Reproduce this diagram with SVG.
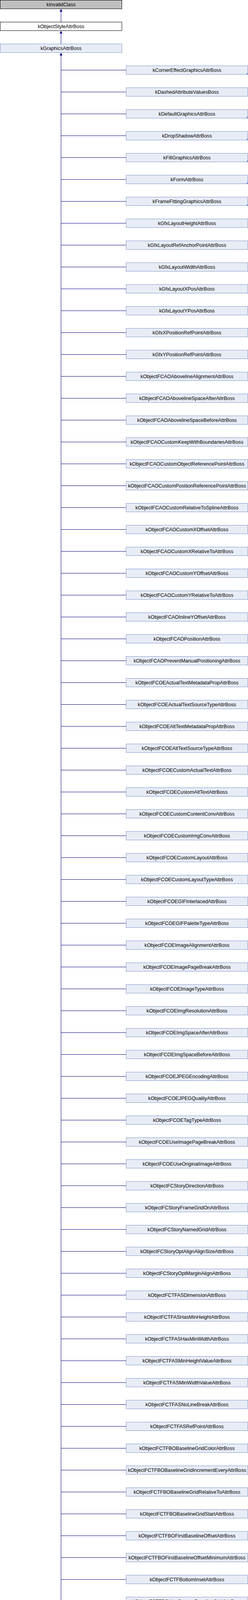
<svg xmlns="http://www.w3.org/2000/svg" width="636" height="7360" viewBox="0 0 636 7360">
<style>
text{font-family:"Liberation Sans",Arial,sans-serif;font-size:12.7px;text-anchor:middle;fill:#000}
.n rect{fill:#E8ECF5;stroke:#7C95CC;stroke-width:1}
.root rect{fill:#BFBFBF;stroke:#000;stroke-width:1}
.mid rect{fill:#FFFFFF;stroke:#000;stroke-width:1}
.t{fill:#7C95CC}
.cn{stroke:#000080;stroke-width:1;fill:none}
.ah{fill:#000080}
</style>
<rect x="0" y="0" width="636" height="7360" fill="#FFFFFF"/>
<g id="connectors">
<path class="cn" d="M156.5 23V56M156.5 79V112M156.5 135V7347.5"/>
<path class="cn" d="M156.5 179.5h166.5m-166.5 56h166.5m-166.5 56h166.5m-166.5 56h166.5m-166.5 56h166.5m-166.5 56h166.5m-166.5 56h166.5m-166.5 56h166.5m-166.5 56h166.5m-166.5 56h166.5m-166.5 56h166.5m-166.5 56h166.5m-166.5 56h166.5m-166.5 56h166.5m-166.5 56h166.5m-166.5 56h166.5m-166.5 56h166.5m-166.5 56h166.5m-166.5 56h166.5m-166.5 56h166.5m-166.5 56h166.5m-166.5 56h166.5m-166.5 56h166.5m-166.5 56h166.5m-166.5 56h166.5m-166.5 56h166.5m-166.5 56h166.5m-166.5 56h166.5m-166.5 56h166.5m-166.5 56h166.5m-166.5 56h166.5m-166.5 56h166.5m-166.5 56h166.5m-166.5 56h166.5m-166.5 56h166.5m-166.5 56h166.5m-166.5 56h166.5m-166.5 56h166.5m-166.5 56h166.5m-166.5 56h166.5m-166.5 56h166.5m-166.5 56h166.5m-166.5 56h166.5m-166.5 56h166.5m-166.5 56h166.5m-166.5 56h166.5m-166.5 56h166.5m-166.5 56h166.5m-166.5 56h166.5m-166.5 56h166.5m-166.5 56h166.5m-166.5 56h166.5m-166.5 56h166.5m-166.5 56h166.5m-166.5 56h166.5m-166.5 56h166.5m-166.5 56h166.5m-166.5 56h166.5m-166.5 56h166.5m-166.5 56h166.5m-166.5 56h166.5m-166.5 56h166.5m-166.5 56h166.5m-166.5 56h166.5m-166.5 56h166.5m-166.5 56h166.5m-166.5 56h166.5m-166.5 56h166.5m-166.5 56h166.5m-166.5 56h166.5m-166.5 56h166.5m-166.5 56h166.5m-166.5 56h166.5m-166.5 56h166.5m-166.5 56h166.5m-166.5 56h166.5m-166.5 56h166.5m-166.5 56h166.5m-166.5 56h166.5m-166.5 56h166.5m-166.5 56h166.5m-166.5 56h166.5m-166.5 56h166.5m-166.5 56h166.5m-166.5 56h166.5m-166.5 56h166.5m-166.5 56h166.5m-166.5 56h166.5m-166.5 56h166.5m-166.5 56h166.5m-166.5 56h166.5m-166.5 56h166.5m-166.5 56h166.5m-166.5 56h166.5m-166.5 56h166.5m-166.5 56h166.5m-166.5 56h166.5m-166.5 56h166.5m-166.5 56h166.5m-166.5 56h166.5m-166.5 56h166.5m-166.5 56h166.5m-166.5 56h166.5m-166.5 56h166.5m-166.5 56h166.5m-166.5 56h166.5m-166.5 56h166.5m-166.5 56h166.5m-166.5 56h166.5m-166.5 56h166.5m-166.5 56h166.5m-166.5 56h166.5m-166.5 56h166.5m-166.5 56h166.5m-166.5 56h166.5m-166.5 56h166.5m-166.5 56h166.5m-166.5 56h166.5m-166.5 56h166.5m-166.5 56h166.5m-166.5 56h166.5m-166.5 56h166.5m-166.5 56h166.5m-166.5 56h166.5m-166.5 56h166.5m-166.5 56h166.5m-166.5 56h166.5m-166.5 56h166.5m-166.5 56h166.5m-166.5 56h166.5m-166.5 56h166.5m-166.5 56h166.5m-166.5 56h166.5m-166.5 56h166.5"/>
<path class="ah" d="M156.5 23L153 30H160ZM156.5 79L153 86H160ZM156.5 135L153 142H160Z"/>
</g>
<g id="kInvalidClass" class="root"><rect x="0.5" y="0.5" width="312" height="22"/><text x="156.5" y="16">kInvalidClass</text></g>
<g id="kObjectStyleAttrBoss" class="mid" transform="translate(0 56)"><rect x="0.5" y="0.5" width="312" height="22"/><text x="156.5" y="16">kObjectStyleAttrBoss</text></g>
<g id="kGraphicsAttrBoss" class="n" transform="translate(0 112)"><rect x="0.5" y="0.5" width="312" height="22"/><text x="156.5" y="16">kGraphicsAttrBoss</text></g>
<g id="kCornerEffectGraphicsAttrBoss" class="n" transform="translate(323 168)"><rect x="0.5" y="0.5" width="312" height="22"/><path class="t" d="M313 17v6h-6z"/><text x="156.5" y="16">kCornerEffectGraphicsAttrBoss</text></g>
<g id="kDashedAttributeValuesBoss" class="n" transform="translate(323 224)"><rect x="0.5" y="0.5" width="312" height="22"/><text x="156.5" y="16">kDashedAttributeValuesBoss</text></g>
<g id="kDefaultGraphicsAttrBoss" class="n" transform="translate(323 280)"><rect x="0.5" y="0.5" width="312" height="22"/><path class="t" d="M313 17v6h-6z"/><text x="156.5" y="16">kDefaultGraphicsAttrBoss</text></g>
<g id="kDropShadowAttrBoss" class="n" transform="translate(323 336)"><rect x="0.5" y="0.5" width="312" height="22"/><path class="t" d="M313 17v6h-6z"/><text x="156.5" y="16">kDropShadowAttrBoss</text></g>
<g id="kFillGraphicsAttrBoss" class="n" transform="translate(323 392)"><rect x="0.5" y="0.5" width="312" height="22"/><path class="t" d="M313 17v6h-6z"/><text x="156.5" y="16">kFillGraphicsAttrBoss</text></g>
<g id="kFormAttrBoss" class="n" transform="translate(323 448)"><rect x="0.5" y="0.5" width="312" height="22"/><path class="t" d="M313 17v6h-6z"/><text x="156.5" y="16">kFormAttrBoss</text></g>
<g id="kFrameFittingGraphicsAttrBoss" class="n" transform="translate(323 504)"><rect x="0.5" y="0.5" width="312" height="22"/><path class="t" d="M313 17v6h-6z"/><text x="156.5" y="16">kFrameFittingGraphicsAttrBoss</text></g>
<g id="kGfxLayoutHeightAttrBoss" class="n" transform="translate(323 560)"><rect x="0.5" y="0.5" width="312" height="22"/><text x="156.5" y="16">kGfxLayoutHeightAttrBoss</text></g>
<g id="kGfxLayoutRefAnchorPointAttrBoss" class="n" transform="translate(323 616)"><rect x="0.5" y="0.5" width="312" height="22"/><text x="156.5" y="16">kGfxLayoutRefAnchorPointAttrBoss</text></g>
<g id="kGfxLayoutWidthAttrBoss" class="n" transform="translate(323 672)"><rect x="0.5" y="0.5" width="312" height="22"/><text x="156.5" y="16">kGfxLayoutWidthAttrBoss</text></g>
<g id="kGfxLayoutXPosAttrBoss" class="n" transform="translate(323 728)"><rect x="0.5" y="0.5" width="312" height="22"/><text x="156.5" y="16">kGfxLayoutXPosAttrBoss</text></g>
<g id="kGfxLayoutYPosAttrBoss" class="n" transform="translate(323 784)"><rect x="0.5" y="0.5" width="312" height="22"/><text x="156.5" y="16">kGfxLayoutYPosAttrBoss</text></g>
<g id="kGfxXPositionRefPointAttrBoss" class="n" transform="translate(323 840)"><rect x="0.5" y="0.5" width="312" height="22"/><text x="156.5" y="16">kGfxXPositionRefPointAttrBoss</text></g>
<g id="kGfxYPositionRefPointAttrBoss" class="n" transform="translate(323 896)"><rect x="0.5" y="0.5" width="312" height="22"/><text x="156.5" y="16">kGfxYPositionRefPointAttrBoss</text></g>
<g id="kObjectFCAOAbovelineAlignmentAttrBoss" class="n" transform="translate(323 952)"><rect x="0.5" y="0.5" width="312" height="22"/><text x="156.5" y="16">kObjectFCAOAbovelineAlignmentAttrBoss</text></g>
<g id="kObjectFCAOAbovelineSpaceAfterAttrBoss" class="n" transform="translate(323 1008)"><rect x="0.5" y="0.5" width="312" height="22"/><text x="156.5" y="16">kObjectFCAOAbovelineSpaceAfterAttrBoss</text></g>
<g id="kObjectFCAOAbovelineSpaceBeforeAttrBoss" class="n" transform="translate(323 1064)"><rect x="0.5" y="0.5" width="312" height="22"/><text x="156.5" y="16">kObjectFCAOAbovelineSpaceBeforeAttrBoss</text></g>
<g id="kObjectFCAOCustomKeepWithBoundariesAttrBoss" class="n" transform="translate(323 1120)"><rect x="0.5" y="0.5" width="312" height="22"/><text x="156.5" y="16">kObjectFCAOCustomKeepWithBoundariesAttrBoss</text></g>
<g id="kObjectFCAOCustomObjectReferencePointAttrBoss" class="n" transform="translate(323 1176)"><rect x="0.5" y="0.5" width="312" height="22"/><text x="156.5" y="16">kObjectFCAOCustomObjectReferencePointAttrBoss</text></g>
<g id="kObjectFCAOCustomPositionReferencePointAttrBoss" class="n" transform="translate(323 1232)"><rect x="0.5" y="0.5" width="312" height="22"/><text x="156.5" y="16">kObjectFCAOCustomPositionReferencePointAttrBoss</text></g>
<g id="kObjectFCAOCustomRelativeToSplineAttrBoss" class="n" transform="translate(323 1288)"><rect x="0.5" y="0.5" width="312" height="22"/><text x="156.5" y="16">kObjectFCAOCustomRelativeToSplineAttrBoss</text></g>
<g id="kObjectFCAOCustomXOffsetAttrBoss" class="n" transform="translate(323 1344)"><rect x="0.5" y="0.5" width="312" height="22"/><text x="156.5" y="16">kObjectFCAOCustomXOffsetAttrBoss</text></g>
<g id="kObjectFCAOCustomXRelativeToAttrBoss" class="n" transform="translate(323 1400)"><rect x="0.5" y="0.5" width="312" height="22"/><text x="156.5" y="16">kObjectFCAOCustomXRelativeToAttrBoss</text></g>
<g id="kObjectFCAOCustomYOffsetAttrBoss" class="n" transform="translate(323 1456)"><rect x="0.5" y="0.5" width="312" height="22"/><text x="156.5" y="16">kObjectFCAOCustomYOffsetAttrBoss</text></g>
<g id="kObjectFCAOCustomYRelativeToAttrBoss" class="n" transform="translate(323 1512)"><rect x="0.5" y="0.5" width="312" height="22"/><text x="156.5" y="16">kObjectFCAOCustomYRelativeToAttrBoss</text></g>
<g id="kObjectFCAOInlineYOffsetAttrBoss" class="n" transform="translate(323 1568)"><rect x="0.5" y="0.5" width="312" height="22"/><text x="156.5" y="16">kObjectFCAOInlineYOffsetAttrBoss</text></g>
<g id="kObjectFCAOPositionAttrBoss" class="n" transform="translate(323 1624)"><rect x="0.5" y="0.5" width="312" height="22"/><text x="156.5" y="16">kObjectFCAOPositionAttrBoss</text></g>
<g id="kObjectFCAOPreventManualPositioningAttrBoss" class="n" transform="translate(323 1680)"><rect x="0.5" y="0.5" width="312" height="22"/><text x="156.5" y="16">kObjectFCAOPreventManualPositioningAttrBoss</text></g>
<g id="kObjectFCOEActualTextMetadataPropAttrBoss" class="n" transform="translate(323 1736)"><rect x="0.5" y="0.5" width="312" height="22"/><text x="156.5" y="16">kObjectFCOEActualTextMetadataPropAttrBoss</text></g>
<g id="kObjectFCOEActualTextSourceTypeAttrBoss" class="n" transform="translate(323 1792)"><rect x="0.5" y="0.5" width="312" height="22"/><text x="156.5" y="16">kObjectFCOEActualTextSourceTypeAttrBoss</text></g>
<g id="kObjectFCOEAltTextMetadataPropAttrBoss" class="n" transform="translate(323 1848)"><rect x="0.5" y="0.5" width="312" height="22"/><text x="156.5" y="16">kObjectFCOEAltTextMetadataPropAttrBoss</text></g>
<g id="kObjectFCOEAltTextSourceTypeAttrBoss" class="n" transform="translate(323 1904)"><rect x="0.5" y="0.5" width="312" height="22"/><text x="156.5" y="16">kObjectFCOEAltTextSourceTypeAttrBoss</text></g>
<g id="kObjectFCOECustomActualTextAttrBoss" class="n" transform="translate(323 1960)"><rect x="0.5" y="0.5" width="312" height="22"/><text x="156.5" y="16">kObjectFCOECustomActualTextAttrBoss</text></g>
<g id="kObjectFCOECustomAltTextAttrBoss" class="n" transform="translate(323 2016)"><rect x="0.5" y="0.5" width="312" height="22"/><text x="156.5" y="16">kObjectFCOECustomAltTextAttrBoss</text></g>
<g id="kObjectFCOECustomContentConvAttrBoss" class="n" transform="translate(323 2072)"><rect x="0.5" y="0.5" width="312" height="22"/><text x="156.5" y="16">kObjectFCOECustomContentConvAttrBoss</text></g>
<g id="kObjectFCOECustomImgConvAttrBoss" class="n" transform="translate(323 2128)"><rect x="0.5" y="0.5" width="312" height="22"/><text x="156.5" y="16">kObjectFCOECustomImgConvAttrBoss</text></g>
<g id="kObjectFCOECustomLayoutAttrBoss" class="n" transform="translate(323 2184)"><rect x="0.5" y="0.5" width="312" height="22"/><text x="156.5" y="16">kObjectFCOECustomLayoutAttrBoss</text></g>
<g id="kObjectFCOECustomLayoutTypeAttrBoss" class="n" transform="translate(323 2240)"><rect x="0.5" y="0.5" width="312" height="22"/><text x="156.5" y="16">kObjectFCOECustomLayoutTypeAttrBoss</text></g>
<g id="kObjectFCOEGIFInterlacedAttrBoss" class="n" transform="translate(323 2296)"><rect x="0.5" y="0.5" width="312" height="22"/><text x="156.5" y="16">kObjectFCOEGIFInterlacedAttrBoss</text></g>
<g id="kObjectFCOEGIFPaletteTypeAttrBoss" class="n" transform="translate(323 2352)"><rect x="0.5" y="0.5" width="312" height="22"/><text x="156.5" y="16">kObjectFCOEGIFPaletteTypeAttrBoss</text></g>
<g id="kObjectFCOEImageAlignmentAttrBoss" class="n" transform="translate(323 2408)"><rect x="0.5" y="0.5" width="312" height="22"/><text x="156.5" y="16">kObjectFCOEImageAlignmentAttrBoss</text></g>
<g id="kObjectFCOEImagePageBreakAttrBoss" class="n" transform="translate(323 2464)"><rect x="0.5" y="0.5" width="312" height="22"/><text x="156.5" y="16">kObjectFCOEImagePageBreakAttrBoss</text></g>
<g id="kObjectFCOEImageTypeAttrBoss" class="n" transform="translate(323 2520)"><rect x="0.5" y="0.5" width="312" height="22"/><text x="156.5" y="16">kObjectFCOEImageTypeAttrBoss</text></g>
<g id="kObjectFCOEImgResolutionAttrBoss" class="n" transform="translate(323 2576)"><rect x="0.5" y="0.5" width="312" height="22"/><text x="156.5" y="16">kObjectFCOEImgResolutionAttrBoss</text></g>
<g id="kObjectFCOEImgSpaceAfterAttrBoss" class="n" transform="translate(323 2632)"><rect x="0.5" y="0.5" width="312" height="22"/><text x="156.5" y="16">kObjectFCOEImgSpaceAfterAttrBoss</text></g>
<g id="kObjectFCOEImgSpaceBeforeAttrBoss" class="n" transform="translate(323 2688)"><rect x="0.5" y="0.5" width="312" height="22"/><text x="156.5" y="16">kObjectFCOEImgSpaceBeforeAttrBoss</text></g>
<g id="kObjectFCOEJPEGEncodingAttrBoss" class="n" transform="translate(323 2744)"><rect x="0.5" y="0.5" width="312" height="22"/><text x="156.5" y="16">kObjectFCOEJPEGEncodingAttrBoss</text></g>
<g id="kObjectFCOEJPEGQualityAttrBoss" class="n" transform="translate(323 2800)"><rect x="0.5" y="0.5" width="312" height="22"/><text x="156.5" y="16">kObjectFCOEJPEGQualityAttrBoss</text></g>
<g id="kObjectFCOETagTypeAttrBoss" class="n" transform="translate(323 2856)"><rect x="0.5" y="0.5" width="312" height="22"/><text x="156.5" y="16">kObjectFCOETagTypeAttrBoss</text></g>
<g id="kObjectFCOEUseImagePageBreakAttrBoss" class="n" transform="translate(323 2912)"><rect x="0.5" y="0.5" width="312" height="22"/><text x="156.5" y="16">kObjectFCOEUseImagePageBreakAttrBoss</text></g>
<g id="kObjectFCOEUseOriginalImageAttrBoss" class="n" transform="translate(323 2968)"><rect x="0.5" y="0.5" width="312" height="22"/><text x="156.5" y="16">kObjectFCOEUseOriginalImageAttrBoss</text></g>
<g id="kObjectFCStoryDirectionAttrBoss" class="n" transform="translate(323 3024)"><rect x="0.5" y="0.5" width="312" height="22"/><text x="156.5" y="16">kObjectFCStoryDirectionAttrBoss</text></g>
<g id="kObjectFCStoryFrameGridOnAttrBoss" class="n" transform="translate(323 3080)"><rect x="0.5" y="0.5" width="312" height="22"/><text x="156.5" y="16">kObjectFCStoryFrameGridOnAttrBoss</text></g>
<g id="kObjectFCStoryNamedGridAttrBoss" class="n" transform="translate(323 3136)"><rect x="0.5" y="0.5" width="312" height="22"/><text x="156.5" y="16">kObjectFCStoryNamedGridAttrBoss</text></g>
<g id="kObjectFCStoryOptAlignAlignSizeAttrBoss" class="n" transform="translate(323 3192)"><rect x="0.5" y="0.5" width="312" height="22"/><text x="156.5" y="16">kObjectFCStoryOptAlignAlignSizeAttrBoss</text></g>
<g id="kObjectFCStoryOptMarginAlignAttrBoss" class="n" transform="translate(323 3248)"><rect x="0.5" y="0.5" width="312" height="22"/><text x="156.5" y="16">kObjectFCStoryOptMarginAlignAttrBoss</text></g>
<g id="kObjectFCTFASDimensionAttrBoss" class="n" transform="translate(323 3304)"><rect x="0.5" y="0.5" width="312" height="22"/><text x="156.5" y="16">kObjectFCTFASDimensionAttrBoss</text></g>
<g id="kObjectFCTFASHasMinHeightAttrBoss" class="n" transform="translate(323 3360)"><rect x="0.5" y="0.5" width="312" height="22"/><text x="156.5" y="16">kObjectFCTFASHasMinHeightAttrBoss</text></g>
<g id="kObjectFCTFASHasMinWidthAttrBoss" class="n" transform="translate(323 3416)"><rect x="0.5" y="0.5" width="312" height="22"/><text x="156.5" y="16">kObjectFCTFASHasMinWidthAttrBoss</text></g>
<g id="kObjectFCTFASMinHeightValueAttrBoss" class="n" transform="translate(323 3472)"><rect x="0.5" y="0.5" width="312" height="22"/><text x="156.5" y="16">kObjectFCTFASMinHeightValueAttrBoss</text></g>
<g id="kObjectFCTFASMinWidthValueAttrBoss" class="n" transform="translate(323 3528)"><rect x="0.5" y="0.5" width="312" height="22"/><text x="156.5" y="16">kObjectFCTFASMinWidthValueAttrBoss</text></g>
<g id="kObjectFCTFASNoLineBreakAttrBoss" class="n" transform="translate(323 3584)"><rect x="0.5" y="0.5" width="312" height="22"/><text x="156.5" y="16">kObjectFCTFASNoLineBreakAttrBoss</text></g>
<g id="kObjectFCTFASRefPointAttrBoss" class="n" transform="translate(323 3640)"><rect x="0.5" y="0.5" width="312" height="22"/><text x="156.5" y="16">kObjectFCTFASRefPointAttrBoss</text></g>
<g id="kObjectFCTFBOBaselineGridColorAttrBoss" class="n" transform="translate(323 3696)"><rect x="0.5" y="0.5" width="312" height="22"/><text x="156.5" y="16">kObjectFCTFBOBaselineGridColorAttrBoss</text></g>
<g id="kObjectFCTFBOBaselineGridIncrementEveryAttrBoss" class="n" transform="translate(323 3752)"><rect x="0.5" y="0.5" width="312" height="22"/><text x="156.5" y="16">kObjectFCTFBOBaselineGridIncrementEveryAttrBoss</text></g>
<g id="kObjectFCTFBOBaselineGridRelativeToAttrBoss" class="n" transform="translate(323 3808)"><rect x="0.5" y="0.5" width="312" height="22"/><text x="156.5" y="16">kObjectFCTFBOBaselineGridRelativeToAttrBoss</text></g>
<g id="kObjectFCTFBOBaselineGridStartAttrBoss" class="n" transform="translate(323 3864)"><rect x="0.5" y="0.5" width="312" height="22"/><text x="156.5" y="16">kObjectFCTFBOBaselineGridStartAttrBoss</text></g>
<g id="kObjectFCTFBOFirstBaselineOffsetAttrBoss" class="n" transform="translate(323 3920)"><rect x="0.5" y="0.5" width="312" height="22"/><text x="156.5" y="16">kObjectFCTFBOFirstBaselineOffsetAttrBoss</text></g>
<g id="kObjectFCTFBOFirstBaselineOffsetMinimumAttrBoss" class="n" transform="translate(323 3976)"><rect x="0.5" y="0.5" width="312" height="22"/><text x="156.5" y="16">kObjectFCTFBOFirstBaselineOffsetMinimumAttrBoss</text></g>
<g id="kObjectFCTFBottomInsetAttrBoss" class="n" transform="translate(323 4032)"><rect x="0.5" y="0.5" width="312" height="22"/><text x="156.5" y="16">kObjectFCTFBottomInsetAttrBoss</text></g>
<g id="kObjectFCTFBOUseCustomBaselineGridAttrBoss" class="n" transform="translate(323 4088)"><rect x="0.5" y="0.5" width="312" height="22"/><text x="156.5" y="16">kObjectFCTFBOUseCustomBaselineGridAttrBoss</text></g>
<g id="kObjectFCTFColumnWidthAttrBoss" class="n" transform="translate(323 4144)"><rect x="0.5" y="0.5" width="312" height="22"/><text x="156.5" y="16">kObjectFCTFColumnWidthAttrBoss</text></g>
<g id="kObjectFCTFFOEnableOverridesAttrBoss" class="n" transform="translate(323 4200)"><rect x="0.5" y="0.5" width="312" height="22"/><text x="156.5" y="16">kObjectFCTFFOEnableOverridesAttrBoss</text></g>
<g id="kObjectFCTFFOMinimumSpacingAttrBoss" class="n" transform="translate(323 4256)"><rect x="0.5" y="0.5" width="312" height="22"/><text x="156.5" y="16">kObjectFCTFFOMinimumSpacingAttrBoss</text></g>
<g id="kObjectFCTFFOSpaceBetweenFootnotesAttrBoss" class="n" transform="translate(323 4312)"><rect x="0.5" y="0.5" width="312" height="22"/><text x="156.5" y="16">kObjectFCTFFOSpaceBetweenFootnotesAttrBoss</text></g>
<g id="kObjectFCTFFOSpanFootnotesAcrossAttrBoss" class="n" transform="translate(323 4368)"><rect x="0.5" y="0.5" width="312" height="22"/><text x="156.5" y="16">kObjectFCTFFOSpanFootnotesAcrossAttrBoss</text></g>
<g id="kObjectFCTFGutterWidthAttrBoss" class="n" transform="translate(323 4424)"><rect x="0.5" y="0.5" width="312" height="22"/><text x="156.5" y="16">kObjectFCTFGutterWidthAttrBoss</text></g>
<g id="kObjectFCTFIgnoreTextWrapAttrBoss" class="n" transform="translate(323 4480)"><rect x="0.5" y="0.5" width="312" height="22"/><text x="156.5" y="16">kObjectFCTFIgnoreTextWrapAttrBoss</text></g>
<g id="kObjectFCTFLeftInsetAttrBoss" class="n" transform="translate(323 4536)"><rect x="0.5" y="0.5" width="312" height="22"/><text x="156.5" y="16">kObjectFCTFLeftInsetAttrBoss</text></g>
<g id="kObjectFCTFMaxColumnWidthAttrBoss" class="n" transform="translate(323 4592)"><rect x="0.5" y="0.5" width="312" height="22"/><text x="156.5" y="16">kObjectFCTFMaxColumnWidthAttrBoss</text></g>
<g id="kObjectFCTFMinColumnWidthAttrBoss" class="n" transform="translate(323 4648)"><rect x="0.5" y="0.5" width="312" height="22"/><text x="156.5" y="16">kObjectFCTFMinColumnWidthAttrBoss</text></g>
<g id="kObjectFCTFNumberOfColumnsAttrBoss" class="n" transform="translate(323 4704)"><rect x="0.5" y="0.5" width="312" height="22"/><text x="156.5" y="16">kObjectFCTFNumberOfColumnsAttrBoss</text></g>
<g id="kObjectFCTFParaSpaceLimitAttrBoss" class="n" transform="translate(323 4760)"><rect x="0.5" y="0.5" width="312" height="22"/><text x="156.5" y="16">kObjectFCTFParaSpaceLimitAttrBoss</text></g>
<g id="kObjectFCTFRightInsetAttrBoss" class="n" transform="translate(323 4816)"><rect x="0.5" y="0.5" width="312" height="22"/><text x="156.5" y="16">kObjectFCTFRightInsetAttrBoss</text></g>
<g id="kObjectFCTFTopInsetAttrBoss" class="n" transform="translate(323 4872)"><rect x="0.5" y="0.5" width="312" height="22"/><text x="156.5" y="16">kObjectFCTFTopInsetAttrBoss</text></g>
<g id="kObjectFCTFUseFixedWidthAttrBoss" class="n" transform="translate(323 4928)"><rect x="0.5" y="0.5" width="312" height="22"/><text x="156.5" y="16">kObjectFCTFUseFixedWidthAttrBoss</text></g>
<g id="kObjectFCTFUseFlexibleWidthAttrBoss" class="n" transform="translate(323 4984)"><rect x="0.5" y="0.5" width="312" height="22"/><text x="156.5" y="16">kObjectFCTFUseFlexibleWidthAttrBoss</text></g>
<g id="kObjectFCTFVJAlignmentAttrBoss" class="n" transform="translate(323 5040)"><rect x="0.5" y="0.5" width="312" height="22"/><text x="156.5" y="16">kObjectFCTFVJAlignmentAttrBoss</text></g>
<g id="kObjectFCTFVJBalanceColumnsAttrBoss" class="n" transform="translate(323 5096)"><rect x="0.5" y="0.5" width="312" height="22"/><text x="156.5" y="16">kObjectFCTFVJBalanceColumnsAttrBoss</text></g>
<g id="kObjectFCTFVRBottomInsetAttrBoss" class="n" transform="translate(323 5152)"><rect x="0.5" y="0.5" width="312" height="22"/><text x="156.5" y="16">kObjectFCTFVRBottomInsetAttrBoss</text></g>
<g id="kObjectFCTFVREnableOverrideAttrBoss" class="n" transform="translate(323 5208)"><rect x="0.5" y="0.5" width="312" height="22"/><text x="156.5" y="16">kObjectFCTFVREnableOverrideAttrBoss</text></g>
<g id="kObjectFCTFVROffetAttrBoss" class="n" transform="translate(323 5264)"><rect x="0.5" y="0.5" width="312" height="22"/><text x="156.5" y="16">kObjectFCTFVROffetAttrBoss</text></g>
<g id="kObjectFCTFVROverprintAttrBoss" class="n" transform="translate(323 5320)"><rect x="0.5" y="0.5" width="312" height="22"/><text x="156.5" y="16">kObjectFCTFVROverprintAttrBoss</text></g>
<g id="kObjectFCTFVRStrokeColorAttrBoss" class="n" transform="translate(323 5376)"><rect x="0.5" y="0.5" width="312" height="22"/><text x="156.5" y="16">kObjectFCTFVRStrokeColorAttrBoss</text></g>
<g id="kObjectFCTFVRStrokeTypeAttrBoss" class="n" transform="translate(323 5432)"><rect x="0.5" y="0.5" width="312" height="22"/><text x="156.5" y="16">kObjectFCTFVRStrokeTypeAttrBoss</text></g>
<g id="kObjectFCTFVRStrokeWidthAttrBoss" class="n" transform="translate(323 5488)"><rect x="0.5" y="0.5" width="312" height="22"/><text x="156.5" y="16">kObjectFCTFVRStrokeWidthAttrBoss</text></g>
<g id="kObjectFCTFVRTintAttrBoss" class="n" transform="translate(323 5544)"><rect x="0.5" y="0.5" width="312" height="22"/><text x="156.5" y="16">kObjectFCTFVRTintAttrBoss</text></g>
<g id="kObjectFCTFVRTopInsetAttrBoss" class="n" transform="translate(323 5600)"><rect x="0.5" y="0.5" width="312" height="22"/><text x="156.5" y="16">kObjectFCTFVRTopInsetAttrBoss</text></g>
<g id="kObjectFCTWActiveFromMasterAttrBoss" class="n" transform="translate(323 5656)"><rect x="0.5" y="0.5" width="312" height="22"/><text x="156.5" y="16">kObjectFCTWActiveFromMasterAttrBoss</text></g>
<g id="kObjectFCTWBottomOffsetAttrBoss" class="n" transform="translate(323 5712)"><rect x="0.5" y="0.5" width="312" height="22"/><text x="156.5" y="16">kObjectFCTWBottomOffsetAttrBoss</text></g>
<g id="kObjectFCTWContourTypeAttrBoss" class="n" transform="translate(323 5768)"><rect x="0.5" y="0.5" width="312" height="22"/><text x="156.5" y="16">kObjectFCTWContourTypeAttrBoss</text></g>
<g id="kObjectFCTWIncludeInsideEdgesAttrBoss" class="n" transform="translate(323 5824)"><rect x="0.5" y="0.5" width="312" height="22"/><text x="156.5" y="16">kObjectFCTWIncludeInsideEdgesAttrBoss</text></g>
<g id="kObjectFCTWInvertAttrBoss" class="n" transform="translate(323 5880)"><rect x="0.5" y="0.5" width="312" height="22"/><text x="156.5" y="16">kObjectFCTWInvertAttrBoss</text></g>
<g id="kObjectFCTWLeftOffsetAttrBoss" class="n" transform="translate(323 5936)"><rect x="0.5" y="0.5" width="312" height="22"/><text x="156.5" y="16">kObjectFCTWLeftOffsetAttrBoss</text></g>
<g id="kObjectFCTWNonPrintingAttrBoss" class="n" transform="translate(323 5992)"><rect x="0.5" y="0.5" width="312" height="22"/><text x="156.5" y="16">kObjectFCTWNonPrintingAttrBoss</text></g>
<g id="kObjectFCTWRightOffsetAttrBoss" class="n" transform="translate(323 6048)"><rect x="0.5" y="0.5" width="312" height="22"/><text x="156.5" y="16">kObjectFCTWRightOffsetAttrBoss</text></g>
<g id="kObjectFCTWSideAttrBoss" class="n" transform="translate(323 6104)"><rect x="0.5" y="0.5" width="312" height="22"/><text x="156.5" y="16">kObjectFCTWSideAttrBoss</text></g>
<g id="kObjectFCTWTopOffsetAttrBoss" class="n" transform="translate(323 6160)"><rect x="0.5" y="0.5" width="312" height="22"/><text x="156.5" y="16">kObjectFCTWTopOffsetAttrBoss</text></g>
<g id="kObjectFCTWTypeAttrBoss" class="n" transform="translate(323 6216)"><rect x="0.5" y="0.5" width="312" height="22"/><text x="156.5" y="16">kObjectFCTWTypeAttrBoss</text></g>
<g id="kObjectFCWritingDirectionAttrBoss" class="n" transform="translate(323 6272)"><rect x="0.5" y="0.5" width="312" height="22"/><text x="156.5" y="16">kObjectFCWritingDirectionAttrBoss</text></g>
<g id="kStrokeEffectGraphicsAttrBoss" class="n" transform="translate(323 6328)"><rect x="0.5" y="0.5" width="312" height="22"/><path class="t" d="M313 17v6h-6z"/><text x="156.5" y="16">kStrokeEffectGraphicsAttrBoss</text></g>
<g id="kStrokeGraphicsAttrBoss" class="n" transform="translate(323 6384)"><rect x="0.5" y="0.5" width="312" height="22"/><path class="t" d="M313 17v6h-6z"/><text x="156.5" y="16">kStrokeGraphicsAttrBoss</text></g>
<g id="kStrokeParametersBoss" class="n" transform="translate(323 6440)"><rect x="0.5" y="0.5" width="312" height="22"/><text x="156.5" y="16">kStrokeParametersBoss</text></g>
<g id="kTranFxOffsetXAttrBoss" class="n" transform="translate(323 6496)"><rect x="0.5" y="0.5" width="312" height="22"/><text x="156.5" y="16">kTranFxOffsetXAttrBoss</text></g>
<g id="kTranFxOffsetYAttrBoss" class="n" transform="translate(323 6552)"><rect x="0.5" y="0.5" width="312" height="22"/><text x="156.5" y="16">kTranFxOffsetYAttrBoss</text></g>
<g id="kTranFxUseAlphaAttrBoss" class="n" transform="translate(323 6608)"><rect x="0.5" y="0.5" width="312" height="22"/><text x="156.5" y="16">kTranFxUseAlphaAttrBoss</text></g>
<g id="kTranFxUseBlackAsOpaqueAttrBoss" class="n" transform="translate(323 6664)"><rect x="0.5" y="0.5" width="312" height="22"/><text x="156.5" y="16">kTranFxUseBlackAsOpaqueAttrBoss</text></g>
<g id="kTranFxUseBlurAttrBoss" class="n" transform="translate(323 6720)"><rect x="0.5" y="0.5" width="312" height="22"/><text x="156.5" y="16">kTranFxUseBlurAttrBoss</text></g>
<g id="kVignetteAttrBoss" class="n" transform="translate(323 6776)"><rect x="0.5" y="0.5" width="312" height="22"/><path class="t" d="M313 17v6h-6z"/><text x="156.5" y="16">kVignetteAttrBoss</text></g>
<g id="kXPAttrBoss" class="n" transform="translate(323 6832)"><rect x="0.5" y="0.5" width="312" height="22"/><path class="t" d="M313 17v6h-6z"/><text x="156.5" y="16">kXPAttrBoss</text></g>
<g id="kXPBevelEmbossAttrBoss" class="n" transform="translate(323 6888)"><rect x="0.5" y="0.5" width="312" height="22"/><path class="t" d="M313 17v6h-6z"/><text x="156.5" y="16">kXPBevelEmbossAttrBoss</text></g>
<g id="kXPDirectionalFeatherAttrBoss" class="n" transform="translate(323 6944)"><rect x="0.5" y="0.5" width="312" height="22"/><path class="t" d="M313 17v6h-6z"/><text x="156.5" y="16">kXPDirectionalFeatherAttrBoss</text></g>
<g id="kXPGradientFeatherAttrBoss" class="n" transform="translate(323 7000)"><rect x="0.5" y="0.5" width="312" height="22"/><path class="t" d="M313 17v6h-6z"/><text x="156.5" y="16">kXPGradientFeatherAttrBoss</text></g>
<g id="kXPInnerGlowAttrBoss" class="n" transform="translate(323 7056)"><rect x="0.5" y="0.5" width="312" height="22"/><path class="t" d="M313 17v6h-6z"/><text x="156.5" y="16">kXPInnerGlowAttrBoss</text></g>
<g id="kXPInnerShadowAttrBoss" class="n" transform="translate(323 7112)"><rect x="0.5" y="0.5" width="312" height="22"/><path class="t" d="M313 17v6h-6z"/><text x="156.5" y="16">kXPInnerShadowAttrBoss</text></g>
<g id="kXPOuterGlowAttrBoss" class="n" transform="translate(323 7168)"><rect x="0.5" y="0.5" width="312" height="22"/><path class="t" d="M313 17v6h-6z"/><text x="156.5" y="16">kXPOuterGlowAttrBoss</text></g>
<g id="kXPSatinAttrBoss" class="n" transform="translate(323 7224)"><rect x="0.5" y="0.5" width="312" height="22"/><path class="t" d="M313 17v6h-6z"/><text x="156.5" y="16">kXPSatinAttrBoss</text></g>
<g id="kXPVignetteInnerOpacityAttrBoss" class="n" transform="translate(323 7280)"><rect x="0.5" y="0.5" width="312" height="22"/><text x="156.5" y="16">kXPVignetteInnerOpacityAttrBoss</text></g>
<g id="kXPVignetteOuterOpacityAttrBoss" class="n" transform="translate(323 7336)"><rect x="0.5" y="0.5" width="312" height="22"/><text x="156.5" y="16">kXPVignetteOuterOpacityAttrBoss</text></g>
</svg>
